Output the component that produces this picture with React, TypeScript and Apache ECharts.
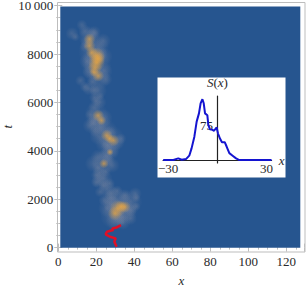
import React, { useEffect, useRef } from "react";
import * as echarts from "echarts";

const xTicks = [0, 20, 40, 60, 80, 100, 120];
const tTicks = [0, 2000, 4000, 6000, 8000, 10000];

// [x, t, relative weight]
const haloBlobs = [
  [7.2, 8844, 6], [9, 8700, 4], [12.4, 9202, 5], [14, 8950, 6], [16.4, 8700, 10], [19, 8900, 6],
  [23.6, 8543, 7], [21, 8300, 10], [14, 8300, 5], [18, 8100, 13], [24, 7900, 8], [15, 7700, 7],
  [20, 7500, 14], [24, 7300, 8], [16, 7250, 6], [21, 7000, 11], [25, 6950, 6], [11.7, 6897, 5],
  [14, 6650, 5], [16, 6556, 6], [21, 6485, 8], [19, 6200, 5], [21.9, 6004, 6], [19, 5800, 6],
  [20, 5500, 11], [24, 5350, 8], [16.8, 5045, 7], [18.4, 5115, 7], [22, 5100, 10], [25, 4800, 11],
  [21, 4600, 8], [28, 4500, 12], [31, 4350, 7], [24, 4300, 8], [27.4, 4100, 9], [27.4, 3950, 8],
  [23.8, 3535, 11], [18.6, 3470, 8], [28.3, 3400, 7], [22, 3100, 7], [22, 2780, 8], [24, 2850, 8],
  [20, 2700, 5], [25.6, 2440, 8], [22, 2300, 5], [28, 2250, 7], [40.5, 2230, 6], [37.9, 1890, 11],
  [30.9, 1890, 13], [25.6, 1617, 8], [33, 1600, 16], [36, 1500, 9], [29, 1300, 12], [30, 1135, 9],
  [38, 1200, 6], [34, 1050, 7],
  [18, 8800, 6], [15, 8500, 6], [22, 8000, 7], [18, 7900, 9], [17, 7500, 7], [19, 7150, 6],
  [18, 6850, 5], [19, 6500, 5], [22, 6250, 4], [20, 6050, 5], [17, 5500, 5], [19, 5300, 6],
  [22, 4950, 6], [19, 4800, 5], [27, 4750, 6], [33, 4500, 5], [26, 4250, 6], [25, 3800, 7],
  [21, 3750, 7], [26, 3600, 6], [21, 3300, 6], [25, 3150, 5], [20, 3000, 5], [27, 2650, 5],
  [24, 2550, 5], [31, 2350, 5], [35, 2150, 6], [27, 2050, 7], [24, 1950, 5], [41, 2050, 4],
  [28, 1800, 8], [38, 1550, 6], [41, 1700, 4], [33, 1250, 7],
];

const coreBlobs = [
  [16.4, 8610, 5], [16.4, 8337, 5], [17.6, 8062, 5], [20.2, 7926, 7], [21, 7800, 6], [20.2, 7650, 7],
  [19.3, 7445, 6], [18.8, 7250, 4], [21, 7103, 5], [21, 5457, 5], [22.7, 5251, 4], [25.5, 4634, 5],
  [29, 4428, 5], [27, 4500, 4], [27.2, 3947, 3], [24, 3469, 4], [31.4, 1617, 7], [29.8, 1411, 6],
  [35, 1683, 5], [33, 1700, 5],
];

const redPathX = [30.7, 29.5, 30.2, 27.2, 24.9, 25.6, 28.9, 28.4, 30.2, 33];
const redPathT = [37, 243, 383, 449, 547, 654, 724, 794, 819, 930];

const insetX = [-33, -26.8, -23.8, -21.7, -19.1, -17.1, -15.7, -14, -12.6, -11.2, -10.2, -9.1, -8.3, -7.5, -6.1, -5.5, -4.5, -3, -2, -1, -0.4, 0.4, 1.6, 2.8, 4.5, 5.7, 7.3, 9.3, 11.4, 13.4, 33];
const insetS = [0, 0, 3.6, 0.7, 2, 9.5, 25.5, 51, 84, 102, 124, 133, 124, 102, 98, 77, 67, 66, 64, 69, 71, 58, 47, 39, 39, 29, 15, 9.5, 3.6, 0, 0];

const serif = "'Liberation Serif', 'Times New Roman', serif";
const INK = "#2a2a2a";
const FRAME = "#bdbdbd";

function softFill(r: number, g: number, b: number, a: number) {
  return {
    type: "radial", x: 0.5, y: 0.5, r: 0.5,
    colorStops: [
      { offset: 0, color: `rgba(${r},${g},${b},${a})` },
      { offset: 0.5, color: `rgba(${r},${g},${b},${a * 0.5})` },
      { offset: 1, color: `rgba(${r},${g},${b},0)` },
    ],
  };
}

export default function App() {
  const ref = useRef<HTMLDivElement>(null);
  useEffect(() => {
    document.body.style.margin = "0";
    const chart = echarts.init(ref.current!, undefined, { renderer: "svg" });
    const mainAxisShared = {
      axisLine: { show: false },
      splitLine: { show: false },
      axisTick: { show: true, inside: true, length: 4, lineStyle: { color: FRAME, width: 1 } },
      minorTick: { show: true, splitNumber: 4, length: 2, lineStyle: { color: FRAME, width: 1 } },
    };
    chart.setOption({
      animation: false,
      backgroundColor: "#ffffff",
      grid: [
        { left: 58.3, top: 5.6, width: 246, height: 242, outerBoundsMode: "none" },
        { left: 163, top: 96, width: 108.7, height: 67, outerBoundsMode: "none" },
      ],
      xAxis: [
        {
          ...mainAxisShared, gridIndex: 0, type: "value", min: 0, max: 129.5, interval: 20, position: "bottom", offset: 4.4,
          name: "x", nameLocation: "middle", nameGap: 22, nameMoveOverlap: false,
          nameTextStyle: { fontFamily: serif, fontStyle: "italic", fontSize: 13, color: INK },
          axisLabel: { show: true, margin: 3, fontFamily: serif, fontSize: 13, color: INK, showMaxLabel: false, formatter: (v: number) => (xTicks.includes(v) ? String(v) : "") },
        },
        {
          ...mainAxisShared, gridIndex: 0, type: "value", min: 0, max: 129.5, interval: 20, position: "top", offset: 3.6,
          axisLabel: { show: false },
        },
        {
          gridIndex: 1, type: "value", min: -33.1, max: 33.1, position: "bottom", z: 6,
          axisLine: { show: true, onZero: true, lineStyle: { color: "#222", width: 1 } },
          axisTick: { show: false }, splitLine: { show: false },
          name: "x", nameLocation: "end", nameGap: 7, nameMoveOverlap: false,
          nameTextStyle: { fontFamily: serif, fontStyle: "italic", fontSize: 13, color: INK },
          axisLabel: { show: true, customValues: [-30, 30], margin: -1, fontFamily: serif, fontSize: 13, color: INK, formatter: (v: number) => (v < 0 ? "\u2212" + Math.abs(v) : String(v)) },
        },
      ],
      yAxis: [
        {
          ...mainAxisShared, gridIndex: 0, type: "value", min: 0, max: 10000, interval: 2000, position: "left",
          name: "t", nameLocation: "middle", nameGap: 44, nameRotate: 90, nameMoveOverlap: false,
          nameTextStyle: { fontFamily: serif, fontStyle: "italic", fontSize: 13, color: INK },
          axisLabel: { show: true, margin: 5, lineHeight: 10, fontFamily: serif, fontSize: 13, color: INK, formatter: (v: number) => (tTicks.includes(v) ? (v >= 10000 ? "10\u2009000" : String(v)) : "") },
        },
        {
          ...mainAxisShared, gridIndex: 0, type: "value", min: 0, max: 10000, interval: 2000, position: "right",
          axisLabel: { show: false },
        },
        {
          gridIndex: 1, type: "value", min: -6.5, max: 140, position: "left", z: 6,
          axisLine: { show: true, onZero: true, lineStyle: { color: "#222", width: 1.2 } },
          axisTick: { show: false }, splitLine: { show: false },
          name: "{i|S}({i|x})", nameLocation: "end", nameGap: 7, nameMoveOverlap: false,
          nameTextStyle: { fontFamily: serif, fontSize: 13, color: INK, rich: { i: { fontFamily: serif, fontStyle: "italic", fontSize: 13, color: INK } } },
          axisLabel: { show: true, customValues: [75], margin: -50, fontFamily: serif, fontSize: 13, color: INK },
        },
      ],
      graphic: [
        { type: "rect", z: 0, shape: { x: 57.5, y: 2.5, width: 247.5, height: 249.5 }, style: { fill: "#fff", stroke: FRAME, lineWidth: 1 } },
        { type: "rect", z: 1, shape: { x: 60.3, y: 6.5, width: 240, height: 241.2 }, style: { fill: "#26558f" } },
        { type: "rect", z: 4, shape: { x: 157.5, y: 77.5, width: 128, height: 100 }, style: { fill: "#ffffff" } },
      ],
      series: [
        {
          type: "scatter", xAxisIndex: 0, yAxisIndex: 0, z: 2, silent: true,
          data: haloBlobs,
          symbolSize: (d: number[]) => d[2] * 2.2,
          itemStyle: { color: softFill(150, 150, 165, 0.34) },
        },
        {
          type: "scatter", xAxisIndex: 0, yAxisIndex: 0, z: 2, silent: true,
          data: coreBlobs,
          symbolSize: (d: number[]) => d[2] * 2.4,
          itemStyle: { color: softFill(245, 170, 60, 0.8) },
        },
        {
          type: "line", xAxisIndex: 0, yAxisIndex: 0, z: 3, silent: true, symbol: "none",
          data: redPathX.map((x, i) => [x, redPathT[i]]),
          lineStyle: { color: "#e01025", width: 2.5 },
        },
        {
          type: "line", xAxisIndex: 2, yAxisIndex: 2, z: 7, silent: true, symbol: "none",
          data: insetX.map((x, i) => [x, insetS[i]]),
          lineStyle: { color: "#1414d0", width: 2 },
        },
      ],
    });
    return () => chart.dispose();
  }, []);
  return <div ref={ref} style={{ width: 307, height: 289 }} />;
}
